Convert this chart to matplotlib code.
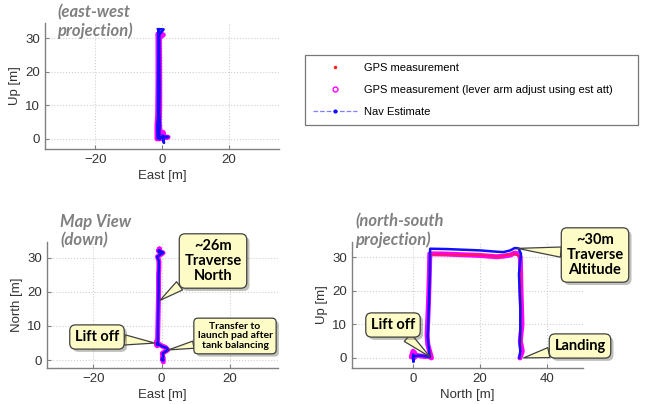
import matplotlib.pyplot as plt
import matplotlib.patheffects as pe
from matplotlib.lines import Line2D

# === Flight track (north, east, up in metres)
nav_north = [0.0, 0.1, 0.0, 0.3, 1.0, 2.0, 3.0, 3.6, 4.0, 4.6, 5.0,
             4.6, 4.4, 4.7, 5.0, 5.1,
             10, 15, 20, 25, 27, 29, 30.3,
             31.5, 32.2, 31.6, 32.0, 32.0, 31.8, 32.0, 31.7]
nav_east = [0.4, 0.6, 0.2, 0.0, 0.5, 0.3, 1.9, 1.5, 0.2, -0.8, -1.3,
            -1.4, -1.2, -1.2, -1.1, -1.1,
            -1.1, -1.0, -0.9, -0.9, -0.8, -0.8, -1.3,
            0.5, -0.8, -0.8, -0.7, -0.8, -0.6, -0.8, -0.7]
nav_up = [0.0, -1.2, 1.0, 0.5, 0.6, 0.7, 0.6, 0.5, 0.5, 0.4, 0.2,
          4.0, 6.0, 15.0, 25.0, 32.5,
          32.4, 32.2, 32.0, 31.6, 31.5, 32.0, 32.7,
          32.6, 31.0, 25.0, 15.0, 8.0, 4.0, 2.0, 0.0]

# GPS measurement with lever arm adjustment
gps_adj_north = [-0.5, 0.0, 0.5, 0.3, 1.0, 2.0, 3.0, 3.7, 4.2, 4.8, 5.5,
                 4.4, 4.2, 4.6, 4.9, 5.0,
                 10, 15, 20, 25, 27, 29, 30.3,
                 31.4, 32.0, 32.2, 32.5, 32.0, 32.6, 31.9]
gps_adj_east = [0.5, 0.3, 0.5, 0.2, 0.3, 0.2, 1.8, 1.2, 0.0, -1.0, -1.5,
                -1.5, -1.3, -1.2, -1.2, -1.2,
                -1.1, -1.0, -0.9, -0.9, -0.8, -0.8, -1.2,
                0.4, -0.8, -0.7, -0.7, -0.8, -0.6, -0.8]
gps_adj_up = [0.3, 2.0, 1.5, 0.0, 0.8, 0.6, 0.5, 0.4, 0.5, 0.4, 0.0,
              4.0, 7.0, 16.0, 26.0, 31.0,
              30.9, 30.7, 30.5, 30.1, 30.3, 30.6, 31.2,
              31.0, 30.0, 20.0, 10.0, 5.0, 2.0, 0.0]

# raw GPS measurement
gps_north = [0.0, 0.4, 1.5, 3.0, 4.2, 5.3, 4.5, 4.8, 5.0,
             12, 20, 26, 30.2, 31.8, 32.3, 32.2, 32.0]
gps_east = [0.4, 0.3, 0.4, 1.8, 0.1, -1.4, -1.4, -1.2, -1.2,
            -1.1, -0.9, -0.9, -1.0, -0.8, -0.7, -0.7, -0.8]
gps_up = [0.8, 0.6, 0.7, 0.5, 0.5, 0.1, 5.0, 18.0, 30.8,
          30.8, 30.5, 30.2, 31.0, 30.2, 15.0, 4.0, 0.2]

fig = plt.figure(figsize=(6.45, 4.04), dpi=100)
plt.rcParams['font.family'] = ['Liberation Sans', 'DejaVu Sans']

W, H = 645, 404


def make_axes(left, right, top, bottom):
    return fig.add_axes([left / W, (H - bottom) / H, (right - left) / W, (bottom - top) / H])


def style_axes(ax):
    for side in ['top', 'right']:
        ax.spines[side].set_visible(False)
    for side in ['left', 'bottom']:
        ax.spines[side].set_color('#808080')
        ax.spines[side].set_linewidth(1.0)
    ax.tick_params(direction='in', length=3, color='#808080',
                   labelcolor='#333333', labelsize=9.5)
    ax.grid(True, linestyle=':', color='#d0d0d0', linewidth=0.8)
    ax.set_axisbelow(True)


def draw_tracks(ax, xs, ys):
    ax.plot(xs[0], ys[0], color='#ff00ff', lw=3.6, solid_capstyle='round')
    ax.plot(xs[1], ys[1], color='#ff2020', lw=1.0)
    ax.plot(xs[2], ys[2], color='#1010ff', lw=1.8)


def callout(ax, text, xy, box_px, size=10.5):
    ann = ax.annotate(text, xy=xy, xycoords='data',
                      xytext=(box_px[0], H - box_px[1]), textcoords='figure pixels',
                      ha='center', va='center', fontsize=size, fontweight='bold',
                      family=['Lato', 'DejaVu Sans'], color='black', linespacing=1.1,
                      bbox=dict(boxstyle='round,pad=0.35,rounding_size=0.4',
                                fc='#fdfbc6', ec='#404040', lw=0.9),
                      arrowprops=dict(arrowstyle='wedge,tail_width=0.7,shrink_factor=0.5',
                                      fc='#fdfbc6', ec='#404040', lw=0.9,
                                      shrinkA=0, shrinkB=0))
    ann.get_bbox_patch().set_path_effects(
        [pe.withSimplePatchShadow(offset=(2, -2), alpha=0.35)])
    return ann


title_kw = dict(fontsize=12, fontweight='bold', style='italic', color='#808080',
                family=['Lato', 'DejaVu Sans'], va='top', ha='left', linespacing=1.15)

# === (a) east-west projection
ax1 = make_axes(45, 279, 23, 149)
style_axes(ax1)
draw_tracks(ax1, (gps_adj_east, gps_east, nav_east), (gps_adj_up, gps_up, nav_up))
ax1.set_xlim(-35, 35)
ax1.set_ylim(-3, 34.5)
ax1.set_xticks([-20, 0, 20])
ax1.set_yticks([0, 10, 20, 30])
ax1.set_xlabel('East [m]', fontsize=9.5, color='#333333', labelpad=3)
ax1.set_ylabel('Up [m]', fontsize=9.5, color='#333333', labelpad=3)
fig.text(57 / W, (H - 4) / H, '(east-west\nprojection)', **title_kw)

# === (b) map view
ax2 = make_axes(47, 278, 242, 368)
style_axes(ax2)
draw_tracks(ax2, (gps_adj_east, gps_east, nav_east), (gps_adj_north, gps_north, nav_north))
ax2.set_xlim(-33.5, 34)
ax2.set_ylim(-2.3, 34.6)
ax2.set_xticks([-20, 0, 20])
ax2.set_yticks([0, 10, 20, 30])
ax2.set_xlabel('East [m]', fontsize=9.5, color='#333333', labelpad=3)
ax2.set_ylabel('North [m]', fontsize=9.5, color='#333333', labelpad=3)
fig.text(60 / W, (H - 214) / H, 'Map View\n(down)', **title_kw)
callout(ax2, '~26m\nTraverse\nNorth', (-0.5, 17.5), (213, 261))
callout(ax2, 'Lift off', (-2.0, 5.0), (97, 337))
callout(ax2, 'Transfer to\nlaunch pad after\ntank balancing', (2.0, 3.0), (235, 336), size=7.5)

# === (c) north-south projection
ax3 = make_axes(352, 583, 242, 368)
style_axes(ax3)
draw_tracks(ax3, (gps_adj_north, gps_north, nav_north), (gps_adj_up, gps_up, nav_up))
ax3.set_xlim(-18.2, 50.7)
ax3.set_ylim(-3, 34.5)
ax3.set_xticks([0, 20, 40])
ax3.set_yticks([0, 10, 20, 30])
ax3.set_xlabel('North [m]', fontsize=9.5, color='#333333', labelpad=3)
ax3.set_ylabel('Up [m]', fontsize=9.5, color='#333333', labelpad=3)
fig.text(355 / W, (H - 213) / H, '(north-south\nprojection)', **title_kw)
callout(ax3, '~30m\nTraverse\nAltitude', (31.2, 32.6), (595, 255))
callout(ax3, 'Lift off', (5.1, 0.3), (393, 325))
callout(ax3, 'Landing', (33.0, 0.0), (580, 346))

# === legend
handles = [
    Line2D([], [], color='#ff2020', marker='.', markersize=3, linestyle='none'),
    Line2D([], [], color='#ff00ff', marker='o', markersize=3.5, mfc='none', linestyle='none'),
    Line2D([], [], color='#8080ff', linestyle='--', lw=0.9, marker='.',
           markersize=4, mfc='#1010ff', mec='#1010ff'),
]
labels = ['GPS measurement',
          'GPS measurement (lever arm adjust using est att)',
          'Nav Estimate']
leg = fig.legend(handles, labels, loc='upper left',
                 bbox_to_anchor=(305 / W, (H - 123) / H, 333 / W, 68 / H),
                 mode='expand', fontsize=8, numpoints=1, handlelength=3.9,
                 handletextpad=0.7, labelspacing=1.05, fancybox=False,
                 borderpad=0.75, borderaxespad=0, edgecolor='#555555')
leg.get_frame().set_linewidth(0.9)

fig.savefig('out.png', dpi=100)
